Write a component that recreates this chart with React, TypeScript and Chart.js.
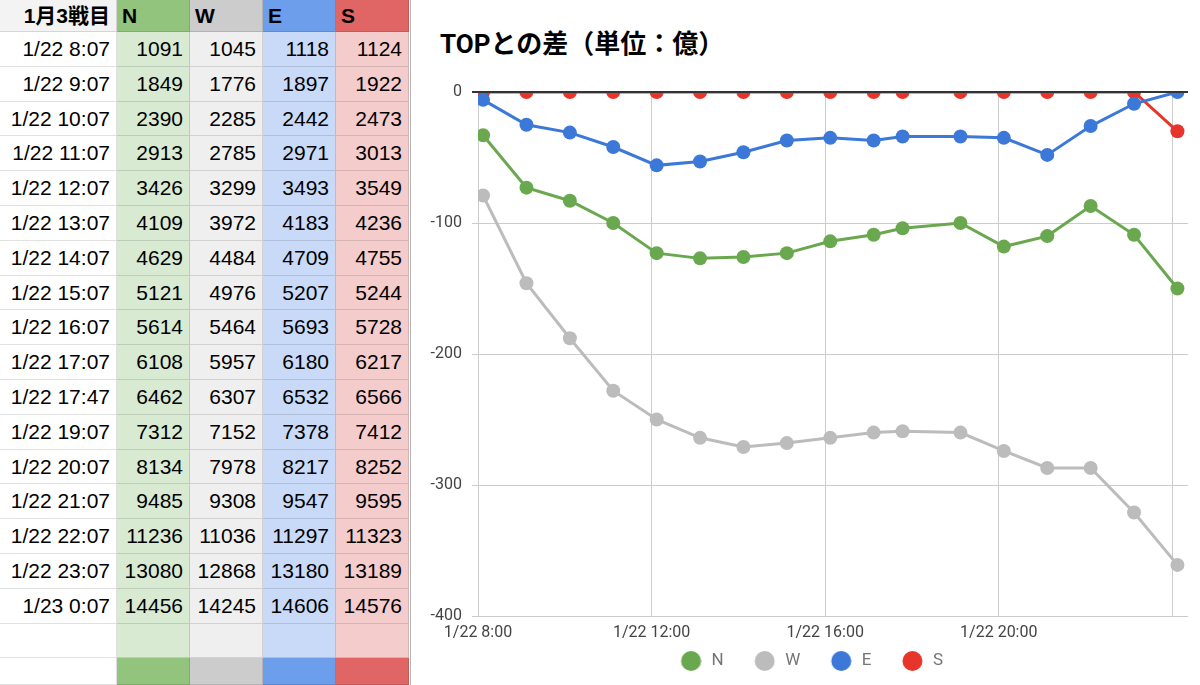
import React, { useEffect, useRef } from 'react';
import { Chart, registerables } from 'chart.js';

Chart.register(...registerables);

// ---- data ----
const tableTitle = '1月3戦目';
const chartTitle = 'TOPとの差（単位：億）';
const seriesNames = ['N', 'W', 'E', 'S'];
const timeLabels = [
  '1/22 8:07', '1/22 9:07', '1/22 10:07', '1/22 11:07', '1/22 12:07', '1/22 13:07',
  '1/22 14:07', '1/22 15:07', '1/22 16:07', '1/22 17:07', '1/22 17:47', '1/22 19:07',
  '1/22 20:07', '1/22 21:07', '1/22 22:07', '1/22 23:07', '1/23 0:07',
];
const nValues = [1091, 1849, 2390, 2913, 3426, 4109, 4629, 5121, 5614, 6108, 6462, 7312, 8134, 9485, 11236, 13080, 14456];
const wValues = [1045, 1776, 2285, 2785, 3299, 3972, 4484, 4976, 5464, 5957, 6307, 7152, 7978, 9308, 11036, 12868, 14245];
const eValues = [1118, 1897, 2442, 2971, 3493, 4183, 4709, 5207, 5693, 6180, 6532, 7378, 8217, 9547, 11297, 13180, 14606];
const sValues = [1124, 1922, 2473, 3013, 3549, 4236, 4755, 5244, 5728, 6217, 6566, 7412, 8252, 9595, 11323, 13189, 14576];
const xTickHours = [8, 12, 16, 20, 24];
const xMin = 8;
const xMax = 24.36;
const yMin = -400;
const yMax = 0;
const yStep = 100;

// ---- styles ----
const lineColors = ['#6aa84f', '#bcbcbc', '#3c78d8', '#e8352b'];
const headColors = ['#93c47d', '#cccccc', '#6d9eeb', '#e06666'];
const bodyColors = ['#d9ead3', '#efefef', '#c9daf8', '#f4cccc'];
const allSeries = [nValues, wValues, eValues, sValues];

const tableFont = '"Liberation Sans", Arial, "Noto Sans CJK JP", sans-serif';
const chartFont = 'Roboto, "Noto Sans CJK JP", sans-serif';

function toHours(label: string): number {
  const [d, t] = label.split(' ');
  const day = Number(d.split('/')[1]);
  const [h, m] = t.split(':').map(Number);
  return (day - 22) * 24 + h + m / 60;
}

const colLefts = [0, 117, 190, 263, 336];
const colWidths = [117, 73, 73, 73, 73];
const headerH = 32;
const rowH = 34.8;
const gridLine = '1px solid rgba(0,0,0,0.12)';

function Cell(props: { left: number; top: number; width: number; height: number; bg: string; text?: string; bold?: boolean; align?: 'left' | 'right' }) {
  const { left, top, width, height, bg, text, bold, align } = props;
  return (
    <div
      style={{
        position: 'absolute',
        left,
        top,
        width,
        height,
        boxSizing: 'border-box',
        background: bg,
        borderBottom: gridLine,
        borderRight: gridLine,
        fontFamily: tableFont,
        fontSize: 21,
        fontWeight: bold ? 'bold' : 'normal',
        color: '#000',
        lineHeight: `${height}px`,
        textAlign: align || 'right',
        paddingRight: align === 'left' ? 0 : 6,
        paddingLeft: align === 'left' ? 5 : 0,
        whiteSpace: 'nowrap',
        overflow: 'hidden',
      }}
    >
      {text}
    </div>
  );
}

function SheetTable() {
  const cells: React.ReactNode[] = [];
  cells.push(<Cell key="h0" left={colLefts[0]} top={0} width={colWidths[0]} height={headerH} bg="#f3f3f3" text={tableTitle} bold />);
  seriesNames.forEach((name, j) => {
    cells.push(
      <Cell key={`h${j + 1}`} left={colLefts[j + 1]} top={0} width={colWidths[j + 1]} height={headerH} bg={headColors[j]} text={name} bold align="left" />
    );
  });
  for (let i = 0; i < timeLabels.length + 1; i++) {
    const top = headerH + i * rowH;
    cells.push(<Cell key={`r${i}c0`} left={colLefts[0]} top={top} width={colWidths[0]} height={rowH} bg="#ffffff" text={timeLabels[i]} />);
    allSeries.forEach((vals, j) => {
      cells.push(
        <Cell
          key={`r${i}c${j + 1}`}
          left={colLefts[j + 1]}
          top={top}
          width={colWidths[j + 1]}
          height={rowH}
          bg={bodyColors[j]}
          text={i < vals.length ? String(vals[i]) : ''}
        />
      );
    });
  }
  const footTop = headerH + (timeLabels.length + 1) * rowH;
  const footH = 685 - footTop;
  cells.push(<Cell key="f0" left={colLefts[0]} top={footTop} width={colWidths[0]} height={footH} bg="#ffffff" />);
  seriesNames.forEach((_, j) => {
    cells.push(<Cell key={`f${j + 1}`} left={colLefts[j + 1]} top={footTop} width={colWidths[j + 1]} height={footH} bg={headColors[j]} />);
  });
  return <>{cells}</>;
}

const zeroLinePlugin = {
  id: 'zeroLine',
  afterDatasetsDraw(chart: any) {
    const { ctx, chartArea, scales } = chart;
    const y = scales.y.getPixelForValue(0);
    ctx.save();
    ctx.strokeStyle = '#333333';
    ctx.lineWidth = 2;
    ctx.beginPath();
    ctx.moveTo(chartArea.left - 6, y);
    ctx.lineTo(chartArea.right, y);
    ctx.stroke();
    ctx.restore();
  },
};

function DiffChart() {
  const ref = useRef<HTMLCanvasElement | null>(null);
  useEffect(() => {
    if (!ref.current) return;
    const xs = timeLabels.map(toHours);
    const tops = timeLabels.map((_, i) => Math.max(...allSeries.map((s) => s[i])));

    // legend marker images: a filled circle placed so that it sits ~23px left of the label text
    const markers = lineColors.map((c) => {
      const cv = document.createElement('canvas');
      cv.width = 40;
      cv.height = 20;
      const cx = cv.getContext('2d')!;
      cx.fillStyle = c;
      cx.beginPath();
      cx.arc(29.5, 10, 10, 0, Math.PI * 2);
      cx.fill();
      return cv;
    });

    const datasets = seriesNames.map((name, j) => ({
      label: name,
      data: xs.map((x, i) => ({ x, y: allSeries[j][i] - tops[i] })),
      borderColor: lineColors[j],
      backgroundColor: lineColors[j],
      borderWidth: 3,
      pointRadius: 7,
      pointBorderWidth: 0,
      pointBackgroundColor: lineColors[j],
      tension: 0,
    }));

    const chart = new Chart(ref.current, {
      type: 'line',
      data: { datasets },
      plugins: [zeroLinePlugin],
      options: {
        animation: false,
        responsive: false,
        layout: { padding: { left: 3, right: 12, top: 92, bottom: 5.5 } },
        plugins: {
          title: { display: false },
          legend: {
            display: true,
            position: 'bottom',
            labels: {
              font: { family: chartFont, size: 17 },
              color: '#757575',
              usePointStyle: true,
              pointStyleWidth: 43,
              padding: 10,
              generateLabels: (c: any) => {
                const items = (Chart.defaults.plugins.legend.labels as any).generateLabels(c);
                return items.map((it: any) => ({ ...it, pointStyle: markers[it.datasetIndex] }));
              },
            },
          },
          tooltip: { enabled: false },
        },
        scales: {
          x: {
            type: 'linear',
            min: xMin,
            max: xMax,
            afterFit: (scale: any) => {
              scale.height = 26.5;
            },
            afterBuildTicks: (scale: any) => {
              scale.ticks = xTickHours.map((v) => ({ value: v }));
            },
            grid: { color: '#cccccc', lineWidth: 1, drawTicks: false, tickLength: 0 },
            border: { display: false },
            ticks: {
              padding: 7,
              maxRotation: 0,
              autoSkip: false,
              color: '#444444',
              font: { family: chartFont, size: 16 },
              callback: (v: any) => (Number(v) >= 24 ? '' : `1/22 ${v}:00`),
            },
          },
          y: {
            type: 'linear',
            min: yMin,
            max: yMax,
            afterFit: (scale: any) => {
              scale.width = 63;
            },
            grid: {
              color: (ctx: any) => (ctx.tick && ctx.tick.value === 0 ? '#333333' : '#cccccc'),
              lineWidth: 1,
              drawTicks: true,
              tickLength: 6,
            },
            border: { display: false },
            ticks: {
              stepSize: yStep,
              padding: 10,
              color: '#444444',
              font: { family: chartFont, size: 16 },
            },
          },
        },
      } as any,
    });
    return () => chart.destroy();
  }, []);
  return (
    <canvas
      ref={ref}
      width={788}
      height={685}
      style={{ position: 'absolute', left: 412, top: 0, width: 788, height: 685 }}
    />
  );
}

export default function App() {
  return (
    <div style={{ position: 'absolute', left: 0, top: 0, width: 1200, height: 685, background: '#ffffff', overflow: 'hidden' }}>
      <SheetTable />
      <div style={{ position: 'absolute', left: 410, top: 0, width: 1, height: 685, background: '#b5b5b5' }} />
      <div
        style={{
          position: 'absolute',
          left: 440,
          top: 29,
          fontFamily: chartFont,
          fontSize: 26,
          fontWeight: 'bold',
          lineHeight: '30px',
          color: '#000000',
          whiteSpace: 'nowrap',
        }}
      >
        {chartTitle}
      </div>
      <DiffChart />
    </div>
  );
}
